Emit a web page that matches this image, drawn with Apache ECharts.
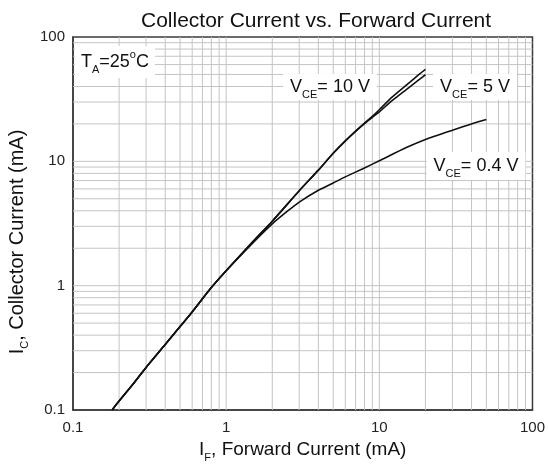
<!DOCTYPE html>
<html><head><meta charset="utf-8">
<script src="https://cdn.jsdelivr.net/npm/echarts/dist/echarts.min.js"></script>
<style>html,body{margin:0;padding:0;background:#fff}#c{width:548px;height:468px}</style>
</head><body><div id="c"></div>
<script>
const FONT = "'Liberation Sans', Arial, Helvetica, sans-serif";

// axis range and gridline values
const axisMin = 0.1, axisMax = 100;
const xGrid = [0.2,0.3,0.4,0.5,0.6,0.7,0.8,0.9,1,2,3,4,5,6,7,8,9,10,20,30,40,50,60,70,80,90];
const yGrid = [0.2,0.3,0.4,0.5,0.6,0.7,0.8,0.9,1,2,3,4,5,6,7,8,9,10,20,30,40,50,60,70,80,90];

// VCE = 10 V and 5 V (forward current, mA)
const ifHigh = [0.18,0.2,0.25,0.3,0.4,0.5,0.6,0.8,1,1.5,2,3,4,5,6,7,8,9,10,12,15,18,20];
const ic10V  = [0.1,0.118,0.165,0.22,0.336,0.47,0.615,0.966,1.32,2.27,3.3,5.8,8.5,11.6,14.6,17.5,20.3,23,26,32.5,41,49.5,55];
const ic5V   = [0.1,0.118,0.165,0.22,0.336,0.47,0.615,0.966,1.32,2.27,3.3,5.8,8.5,11.6,14.6,17.4,20.1,22.6,25,30.5,37.8,45,49.7];

// VCE = 0.4 V
const if04 = [0.18,0.2,0.25,0.3,0.4,0.5,0.6,0.8,1,1.5,2,2.5,3,4,5,6,8,10,15,20,30,40,50];
const ic04 = [0.1,0.118,0.165,0.22,0.336,0.47,0.615,0.966,1.32,2.22,3.14,3.95,4.7,5.85,6.7,7.5,8.85,10.1,12.9,15,17.8,20,21.7];

const pairs = (xs, ys) => xs.map((x, i) => [x, ys[i]]);
const fmt = v => String(+(+v).toPrecision(3));

const chart = echarts.init(document.getElementById('c'), null, {renderer: 'canvas'});

const GRIDC = '#c4c4c4';
const gridSeries = [
  ...xGrid.map(v => ({type: 'line', data: [[v, axisMin], [v, axisMax]], showSymbol: false, silent: true, z: 1,
    lineStyle: {color: GRIDC, width: 1}, emphasis: {disabled: true}})),
  ...yGrid.map(v => ({type: 'line', data: [[axisMin, v], [axisMax, v]], showSymbol: false, silent: true, z: 1,
    lineStyle: {color: GRIDC, width: 1}, emphasis: {disabled: true}}))
];

const curve = (name, xs, ys) => ({
  name, type: 'line', data: pairs(xs, ys), showSymbol: false, smooth: 0.2,
  z: 5, silent: true,
  lineStyle: {color: '#111', width: 1.6, join: 'round'}
});

const sub = {fontSize: 11, lineHeight: 11, verticalAlign: 'bottom', fontFamily: FONT, fill: '#111', color: '#111'};
const main = (fs) => ({fontSize: fs, lineHeight: 26, verticalAlign: 'middle', fontFamily: FONT, fill: '#111', color: '#111'});
const sup = {fontSize: 11, lineHeight: 11, verticalAlign: 'top', fontFamily: FONT, fill: '#111'};

const label = (x, y, text, pad) => ({
  type: 'text', x, y, z: 100, silent: true,
  style: {
    text, align: 'center', verticalAlign: 'middle',
    backgroundColor: '#fff', padding: pad,
    fontFamily: FONT, fontSize: 18, fill: '#111',
    rich: {m: main(18), s: sub, p: sup}
  }
});

chart.setOption({
  animation: false,
  backgroundColor: '#fff',
  title: {
    text: 'Collector Current vs. Forward Current',
    left: 136, top: 6,
    textStyle: {fontSize: 21, fontWeight: 'normal', color: '#111', fontFamily: FONT}
  },
  grid: {left: 73, right: 14, top: 37, bottom: 56, show: true, borderColor: '#3a3a3a', borderWidth: 1.5, backgroundColor: 'transparent'},
  xAxis: {
    type: 'log', logBase: 10, min: axisMin, max: axisMax,
    axisLine: {show: true, onZero: false, lineStyle: {color: '#3a3a3a', width: 1.5}},
    axisTick: {show: false},
    axisLabel: {color: '#222', fontSize: 15, fontFamily: FONT, margin: 10, formatter: fmt},
    splitLine: {show: false},
    name: '{m|I}{s|F}{m|, Forward Current (mA)}',
    nameLocation: 'middle', nameGap: 27,
    nameTextStyle: {fontSize: 19, fontFamily: FONT, color: '#111',
      rich: {m: {fontSize: 19, lineHeight: 26, verticalAlign: 'middle', fontFamily: FONT, color: '#111'},
             s: {fontSize: 11, lineHeight: 11, verticalAlign: 'bottom', fontFamily: FONT, color: '#111'}}}
  },
  yAxis: {
    type: 'log', logBase: 10, min: axisMin, max: axisMax,
    axisLine: {show: true, onZero: false, lineStyle: {color: '#3a3a3a', width: 1.5}},
    axisTick: {show: false},
    axisLabel: {color: '#222', fontSize: 15, fontFamily: FONT, margin: 8, formatter: fmt},
    splitLine: {show: false}
  },
  graphic: [
    {
      type: 'text', x: 17, y: 242, rotation: Math.PI / 2, z: 100, silent: true,
      style: {
        text: '{m|I}{s|C}{m|, Collector Current (mA)}',
        align: 'center', verticalAlign: 'middle', fontFamily: FONT, fontSize: 20, fill: '#111',
        rich: {m: main(20), s: sub}
      }
    },
    label(115, 62, '{m|T}{s|A}{m|=25}{p|o}{m|C}', [3, 6]),
    label(330, 87, '{m|V}{s|CE}{m|= 10 V}', [0, 7]),
    label(475, 87, '{m|V}{s|CE}{m|= 5 V}', [0, 7]),
    label(476, 166, '{m|V}{s|CE}{m|= 0.4 V}', [1, 7])
  ],
  series: [
    ...gridSeries,
    curve('VCE = 10 V', ifHigh, ic10V),
    curve('VCE = 5 V', ifHigh, ic5V),
    curve('VCE = 0.4 V', if04, ic04)
  ]
});
</script>
</body></html>
